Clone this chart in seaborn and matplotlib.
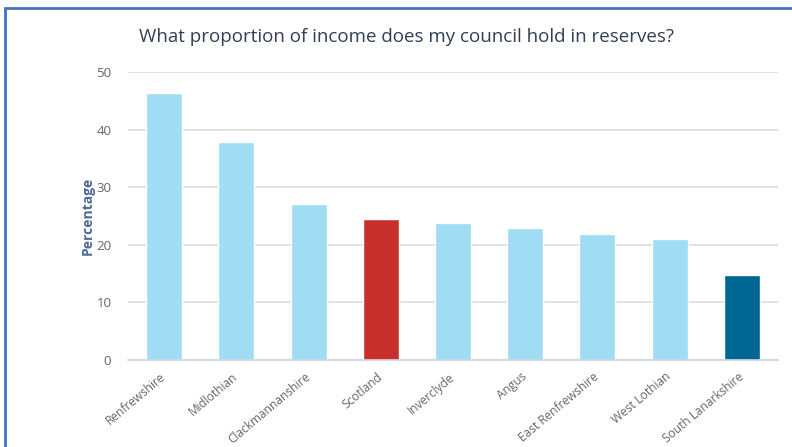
import matplotlib
matplotlib.use("Agg")
import matplotlib.pyplot as plt
import seaborn as sns
import pandas as pd
from matplotlib.lines import Line2D

# Données
councils = ["Renfrewshire", "Midlothian", "Clackmannanshire", "Scotland", "Inverclyde",
            "Angus", "East Renfrewshire", "West Lothian", "South Lanarkshire"]
reserves_pct = [46.4, 37.9, 27.1, 24.4, 23.8, 22.9, 21.8, 21.0, 14.8]
bar_colours = ["#a0dcf4", "#a0dcf4", "#a0dcf4", "#c8302c", "#a0dcf4",
               "#a0dcf4", "#a0dcf4", "#a0dcf4", "#006794"]
y_ticks = [0, 10, 20, 30, 40, 50]

df = pd.DataFrame({"council": councils, "pct": reserves_pct})

sns.set_style("white")
plt.rcParams['font.family'] = ['Open Sans', 'DejaVu Sans']

fig = plt.figure(figsize=(7.92, 4.47), dpi=100)
ax = fig.add_axes([128 / 792, 1 - 360 / 447, 650 / 792, 288 / 447])

sns.barplot(data=df, x="council", y="pct", hue="council", palette=bar_colours,
            legend=False, width=0.5, saturation=1, ax=ax)

ax.set_ylim(0, 50)
ax.set_xlim(-0.5, len(councils) - 0.5)
ax.set_yticks(y_ticks)
ax.yaxis.grid(True, color="#d9d9d9", linewidth=1.1)
ax.set_axisbelow(True)
for s in ["top", "right", "left"]:
    ax.spines[s].set_visible(False)
ax.spines["bottom"].set_color("#ccd6e0")
ax.spines["bottom"].set_linewidth(1.2)

# ticks between categories
ax.set_xticks([i - 0.5 for i in range(len(councils) + 1)], minor=True)
ax.tick_params(axis="x", which="minor", length=8, color="#ccd6e0", width=1.2)
ax.tick_params(axis="x", which="major", length=0, pad=11)
ax.set_xticks(range(len(councils)))
ax.set_xticklabels(councils, rotation=40, ha="right", va="center", rotation_mode="anchor",
                   fontsize=8.6, color="#666666")
ax.tick_params(axis="y", length=0, labelsize=9.5, labelcolor="#666666", pad=12)

ax.set_xlabel("")
ax.set_ylabel("Percentage", fontsize=10, fontweight="bold", color="#4a6b96", labelpad=1)

fig.text(407 / 792, 1 - 37 / 447, "What proportion of income does my council hold in reserves?",
         ha="center", va="center", fontsize=13.5, color="#333e52")

# bordure
fig.add_artist(Line2D([5 / 792, 5 / 792], [0, 1 - 8 / 447], transform=fig.transFigure,
                      color="#4472c4", linewidth=2))
fig.add_artist(Line2D([5 / 792, 1], [1 - 8 / 447, 1 - 8 / 447], transform=fig.transFigure,
                      color="#4472c4", linewidth=2))

fig.savefig("out.png", dpi=100)
